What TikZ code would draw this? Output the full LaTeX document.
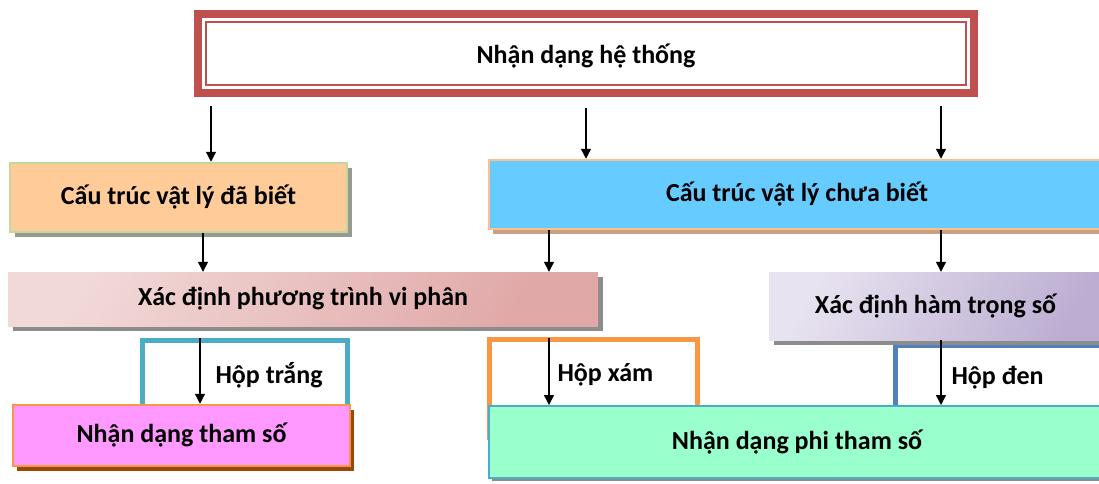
\documentclass[tikz,border=0pt]{standalone}
\usepackage{fontspec}
\setmainfont{Carlito}
\usetikzlibrary{shadows,arrows.meta}
\definecolor{redframe}{HTML}{C0504D}
\definecolor{peach}{HTML}{FFCC99}
\definecolor{olivegreen}{HTML}{C3D69B}
\definecolor{skyblue}{HTML}{66CCFF}
\definecolor{tan}{HTML}{FAC090}
\definecolor{tanshadow}{HTML}{C9A080}
\definecolor{rosedark}{HTML}{E0A8A7}
\definecolor{roselight}{HTML}{F1D9D8}
\definecolor{lavdark}{HTML}{BCAED2}
\definecolor{lavlight}{HTML}{E8E3F0}
\definecolor{teal}{HTML}{4BACC6}
\definecolor{orangeline}{HTML}{F79646}
\definecolor{steelblue}{HTML}{4F81BD}
\definecolor{magentabox}{HTML}{FF99FF}
\definecolor{brownshadow}{HTML}{984807}
\definecolor{mint}{HTML}{99FFCC}
\definecolor{grayshadow}{HTML}{8C8C8C}
\tikzset{
  lbl/.style={font=\fontsize{26}{30}\selectfont\bfseries},
  boxbase/.style={lbl, inner sep=0pt, align=center},
  arr/.style={-{Triangle[length=10pt,width=10pt]}, line width=1.3pt, black},
  openbox/.style={line width=5pt},
}
\begin{document}
\begin{tikzpicture}[x=1pt,y=-1pt]
\useasboundingbox (0,0) rectangle (1099,483);
\clip (0,0) rectangle (1099,483);

% top frame: thick outer line, thin inner line
\node[boxbase, draw=redframe, line width=8pt, fill=white, outer sep=0pt,
      minimum width=776pt, minimum height=79pt] (top) at (586,53.5) {};
\draw[redframe, line width=2.5pt] ([shift={(8,8)}]top.north west) rectangle ([shift={(-8,-8)}]top.south east);
\node[lbl] at ([yshift=-3pt]top.center) {Nhận dạng hệ thống};

% second row
\node[boxbase, draw=olivegreen, line width=2.5pt, fill=peach,
      minimum width=337pt, minimum height=69pt,
      drop shadow={shadow xshift=5pt, shadow yshift=-5pt, fill=grayshadow!80!olivegreen, opacity=1}]
      (known) at (178.5,197.5) {Cấu trúc vật lý đã biết};
\node[boxbase, draw=tan, line width=2.5pt, fill=skyblue,
      minimum width=616pt, minimum height=69pt,
      drop shadow={shadow xshift=4pt, shadow yshift=-5pt, fill=tanshadow, opacity=1}]
      (unknown) at (797,194.5) {Cấu trúc vật lý chưa biết};

% open frames behind the bottom boxes
\draw[openbox, teal] (142.5,460) -- (142.5,340.5) -- (347.5,340.5) -- (347.5,460);
\draw[openbox, orangeline] (489.5,440) -- (489.5,339.5) -- (697.5,339.5) -- (697.5,440);
\draw[openbox, steelblue] (895.5,440) -- (895.5,345.5) -- (1110,345.5);

% third row
\node[boxbase, draw=none,
      left color=roselight, right color=rosedark, shading angle=60,
      minimum width=590pt, minimum height=54pt,
      drop shadow={shadow xshift=5pt, shadow yshift=-5pt, fill=grayshadow, opacity=1}]
      (ode) at (303,299) {Xác định phương trình vi phân};
\node[boxbase, draw=none,
      left color=lavlight, right color=lavdark, shading angle=60,
      minimum width=341pt, minimum height=68pt,
      drop shadow={shadow xshift=5pt, shadow yshift=-5pt, fill=grayshadow, opacity=1}]
      (weight) at (939.5,306) {\hspace*{-8pt}Xác định hàm trọng số};

% bottom row
\node[boxbase, draw=orangeline, line width=2.5pt, fill=magentabox,
      minimum width=337pt, minimum height=61pt,
      drop shadow={shadow xshift=4pt, shadow yshift=-5pt, fill=brownshadow, opacity=1}]
      (param) at (181.5,435.5) {Nhận dạng tham số};
\node[boxbase, draw=teal, line width=2pt, fill=mint,
      minimum width=616pt, minimum height=72pt,
      drop shadow={shadow xshift=3pt, shadow yshift=-3pt, fill=grayshadow, opacity=1}]
      (nonparam) at (797,442) {Nhận dạng phi tham số};

% labels of the open frames
\node[lbl, anchor=west] (white) at (212,375) {Hộp trắng};
\node[lbl, anchor=west] (gray) at (554,375) {Hộp xám};
\node[lbl, anchor=west] (black) at (948,378) {Hộp đen};

% connectors
\draw[arr] ([yshift=-13pt]top.south -| 211,0) -- (known.north -| 211,0);
\draw[arr] ([yshift=-15pt]top.south -| 586,0) -- (unknown.north -| 586,0);
\draw[arr] ([yshift=-13pt]top.south -| 941,0) -- (unknown.north -| 941,0);
\draw[arr] (known.south -| 203,0) -- (ode.north -| 203,0);
\draw[arr] (unknown.south -| 549,0) -- (ode.north -| 549,0);
\draw[arr] (unknown.south -| 941,0) -- (weight.north -| 941,0);
\draw[arr] (200,338) -- (param.north -| 200,0);
\draw[arr] (549,338) -- (nonparam.north -| 549,0);
\draw[arr] (weight.south -| 941,0) -- (nonparam.north -| 941,0);
\end{tikzpicture}
\end{document}
